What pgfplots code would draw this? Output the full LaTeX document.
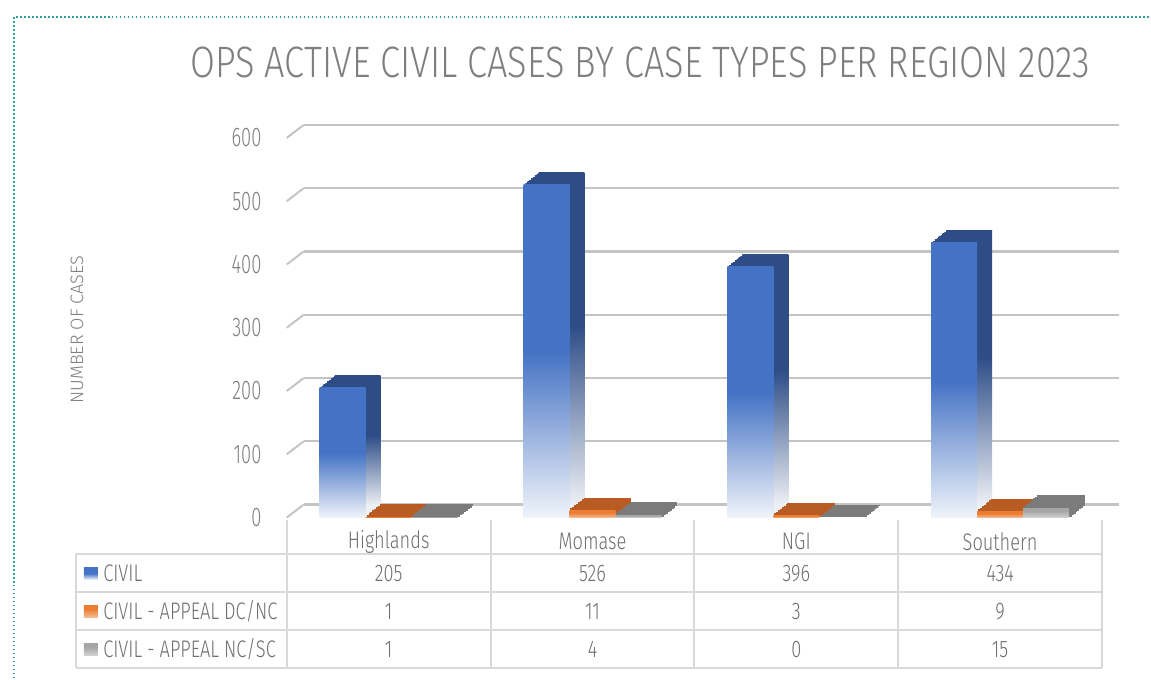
\documentclass[border=0pt]{standalone}
\usepackage{fontspec}
\setmainfont{Fira Sans}[UprightFont=* Light, FakeStretch=0.68]
\newfontfamily\titlefont{Fira Sans}[UprightFont=* Light, FakeStretch=0.82]
\newfontfamily\labelfont{Fira Sans}[UprightFont=* Light]
\newfontfamily\tablefont{Fira Sans}[UprightFont=* Light, FakeStretch=0.76]
\usepackage{pgfplots}
\usepackage{pgfplotstable}
\pgfplotsset{compat=1.18}

\definecolor{cblue}{HTML}{4472C4}
\definecolor{cblueside}{HTML}{2E4D87}
\definecolor{corange}{HTML}{ED7D31}
\definecolor{corangeside}{HTML}{B85C23}
\definecolor{cgray}{HTML}{A5A5A5}
\definecolor{cgrayside}{HTML}{7B7B7B}
\definecolor{txt}{HTML}{6F6F6F}
\definecolor{ttl}{HTML}{7F7F7F}
\definecolor{gridc}{HTML}{C4C4C4}
\definecolor{tline}{HTML}{D9D9D9}
\definecolor{bordert}{HTML}{2A9D9D}

\pgfdeclareverticalshading{bluefront}{100bp}{color(0bp)=(white); color(25bp)=(cblue!8!white); color(50bp)=(cblue); color(100bp)=(cblue)}
\pgfdeclareverticalshading{blueside}{100bp}{color(0bp)=(white); color(25bp)=(cblueside!8!white); color(52bp)=(cblueside); color(100bp)=(cblueside)}
\pgfdeclareverticalshading{orangefront}{100bp}{color(0bp)=(corange!40!white); color(25bp)=(corange!50!white); color(60bp)=(corange); color(100bp)=(corange)}
\pgfdeclareverticalshading{grayfront}{100bp}{color(0bp)=(cgray!40!white); color(25bp)=(cgray!50!white); color(60bp)=(cgray); color(100bp)=(cgray)}

\pgfplotstableread{
x region civil dcnc ncsc
0 Highlands 205 1 1
1 Momase 526 11 4
2 NGI 396 3 0
3 Southern 434 9 15
}\data

% one 3D-looking bar: #1 category, #2 column, #3 bar shift, #4 side style, #5 front style
\newcommand{\threedbar}[5]{%
  \pgfplotsinvokeforeach{1,...,8}{%
    \addplot[ybar, bar width=23pt, bar shift=#3, #4, xshift=##1*0.9375pt, yshift=##1*0.75pt,
      restrict x to domain=#1:#1] table[x=x,y=#2]{\data};
  }%
  \addplot[ybar, bar width=23pt, bar shift=#3, #5, restrict x to domain=#1:#1] table[x=x,y=#2]{\data};
}
\newcommand{\category}[1]{%
  \threedbar{#1}{civil}{-23pt}{shading=blueside, shade, draw=none}{shading=bluefront, shade, draw=none}%
  \threedbar{#1}{dcnc}{0pt}{fill=corangeside, draw=corangeside, line width=0.9pt}{shading=orangefront, shade, draw=none}%
  \threedbar{#1}{ncsc}{23pt}{fill=cgrayside, draw=cgrayside, line width=0.9pt}{shading=grayfront, shade, draw=none}%
}

\begin{document}
\begin{tikzpicture}
\path (0,0) rectangle (575.5pt,-339.5pt);
% dotted frame
\draw[bordert, line width=1pt, dash pattern=on 0.8pt off 1.2pt] (7pt,-339.5pt) -- (7pt,-8.5pt) -- (575.5pt,-8.5pt);
\node[text=ttl, font=\titlefont\fontsize{22}{24}\selectfont, inner sep=0pt] at (320.5pt,-31pt) {OPS ACTIVE CIVIL CASES BY CASE TYPES PER REGION 2023};
\node[text=ttl, font=\labelfont\fontsize{9}{10}\selectfont, rotate=90, inner sep=0pt] at (38.5pt,-165pt) {NUMBER OF CASES};

\begin{axis}[
  at={(143.5pt,-259pt)}, anchor=south west,
  scale only axis, width=408pt, height=190pt,
  xmin=-0.5, xmax=3.5, ymin=0, ymax=600,
  ytick={0,100,...,600}, xtick=\empty,
  axis line style={draw=none}, major tick length=0pt,
  clip=false,
  yticklabel style={font=\fontsize{13.5}{15}\selectfont, text=ttl, inner sep=0pt, xshift=-12.5pt},
  /pgf/number format/assume math mode=true,
  every axis plot/.append style={forget plot},
]
% back wall gridlines and depth ticks
\pgfplotsinvokeforeach{0,100,...,600}{
  \draw[gridc, line width=1.2pt] ([xshift=8.5pt,yshift=6.5pt]axis cs:-0.5,#1) -- ([xshift=8.5pt,yshift=6.5pt]axis cs:3.5,#1);
  \draw[gridc, line width=1pt] (axis cs:-0.5,#1) -- ([xshift=8.5pt,yshift=6.5pt]axis cs:-0.5,#1);
}
\category{0}
\category{1}
\category{2}
\category{3}
\end{axis}

% data table
\begin{scope}[x=0.5pt, y=-0.5pt]
  \foreach \yy in {554,593,631,669} \draw[tline, line width=1pt] (76,\yy) -- (1103,\yy);
  \draw[tline, line width=1pt] (76,554) -- (76,669);
  \foreach \xx in {287,491,695,899,1103} \draw[tline, line width=1pt] (\xx,520) -- (\xx,669);
  \shade[shading=bluefront] (84,568) rectangle (98,580);
  \shade[shading=orangefront] (84,606) rectangle (98,618);
  \shade[shading=grayfront] (84,644) rectangle (98,656);
  \begin{scope}[every node/.style={text=txt, font=\tablefont\fontsize{12}{14}\selectfont, inner sep=0pt}]
    \node[anchor=west] at (103,574) {CIVIL};
    \node[anchor=west] at (103,612) {CIVIL - APPEAL DC/NC};
    \node[anchor=west] at (103,650) {CIVIL - APPEAL NC/SC};
    \foreach \i in {0,...,3}{
      \pgfplotstablegetelem{\i}{region}\of\data
      \node at ({389+204*\i},542) {\pgfplotsretval};
      \pgfplotstablegetelem{\i}{civil}\of\data
      \node at ({389+204*\i},574) {\pgfplotsretval};
      \pgfplotstablegetelem{\i}{dcnc}\of\data
      \node at ({389+204*\i},612) {\pgfplotsretval};
      \pgfplotstablegetelem{\i}{ncsc}\of\data
      \node at ({389+204*\i},650) {\pgfplotsretval};
    }
  \end{scope}
\end{scope}
\end{tikzpicture}
\end{document}
